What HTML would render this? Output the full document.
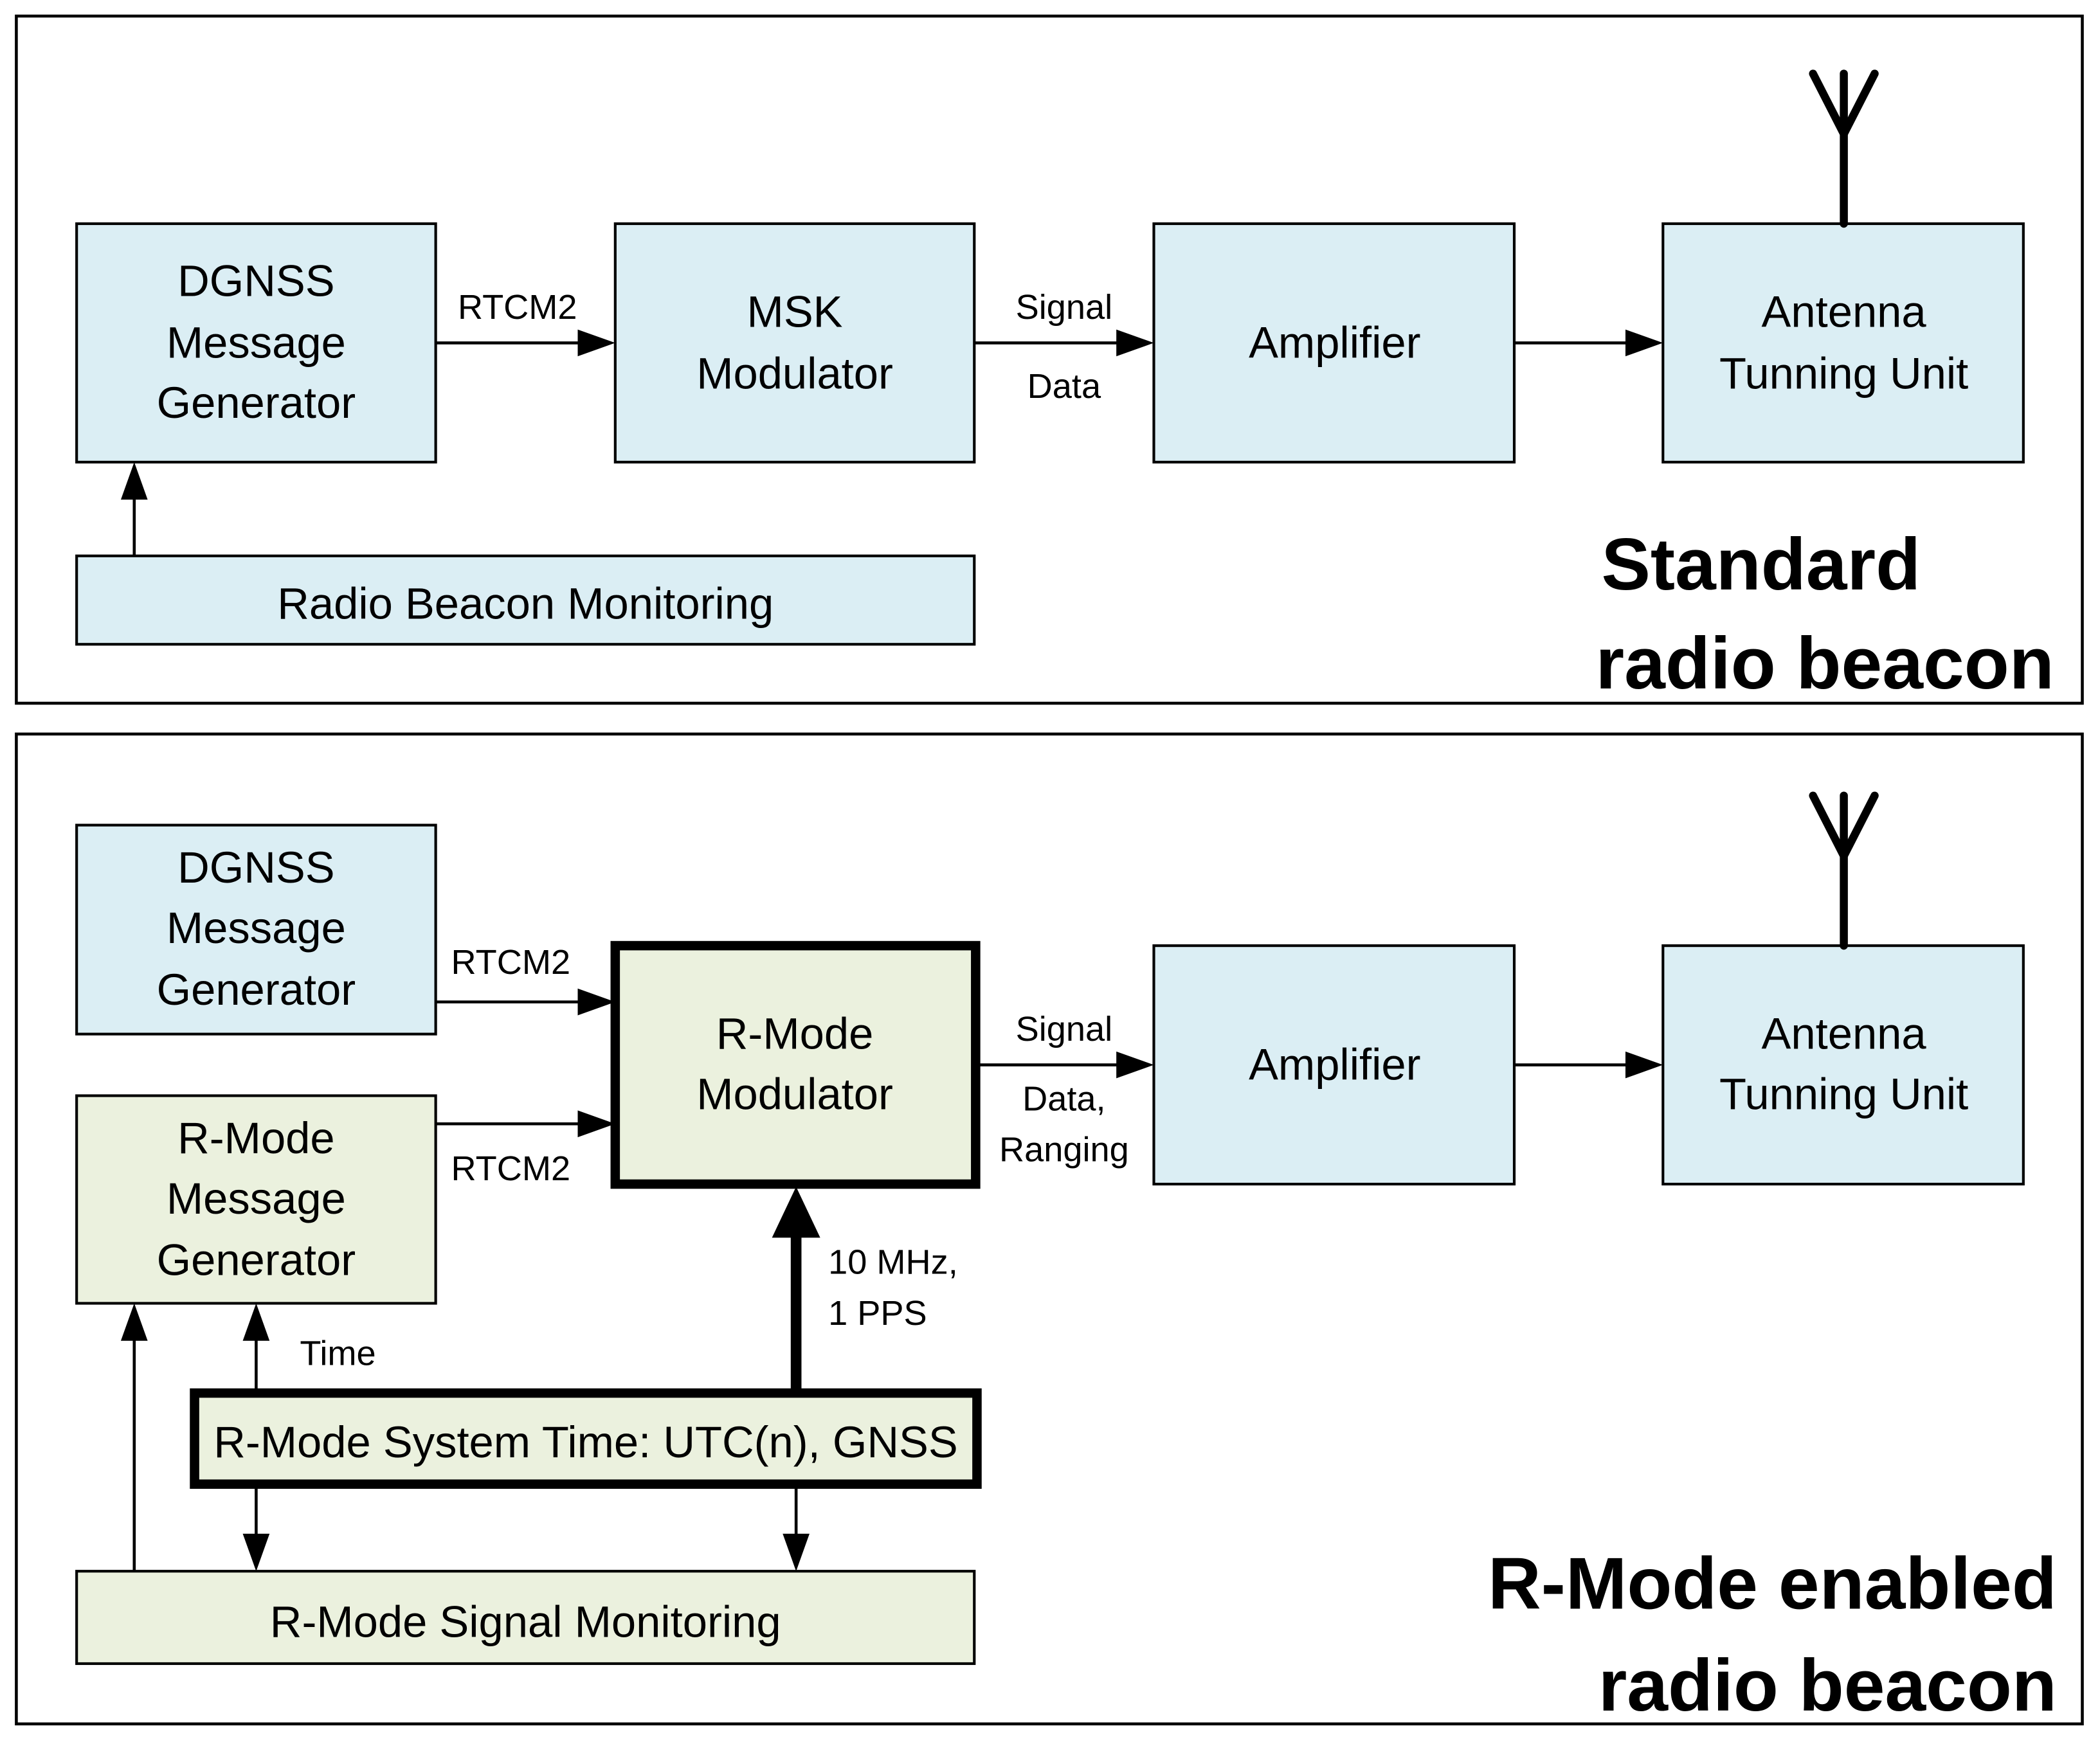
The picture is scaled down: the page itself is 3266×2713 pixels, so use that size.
<!DOCTYPE html>
<html><head><meta charset="utf-8"><style>html,body{margin:0;padding:0;background:#fff}svg{display:block}</style></head>
<body>
<svg width="3266" height="2713" viewBox="0 0 1567 1302" xmlns="http://www.w3.org/2000/svg" font-family="'Liberation Sans', sans-serif">
<rect width="1567" height="1302" fill="#fff"/>
<g fill="none" stroke="#000" stroke-width="2.2">
<rect x="12" y="12" width="1542" height="513"/>
<rect x="12" y="548" width="1542" height="739"/>
</g>
<g stroke="#000" stroke-width="2">
<rect x="57" y="167" width="268" height="178" fill="#dbeef4"/>
<rect x="459" y="167" width="268" height="178" fill="#dbeef4"/>
<rect x="861" y="167" width="269" height="178" fill="#dbeef4"/>
<rect x="1241" y="167" width="269" height="178" fill="#dbeef4"/>
<rect x="57" y="415" width="670" height="66" fill="#dbeef4"/>
<rect x="57" y="616" width="268" height="156" fill="#dbeef4"/>
<rect x="57" y="818" width="268" height="155" fill="#ebf1de"/>
<rect x="861" y="706" width="269" height="178" fill="#dbeef4"/>
<rect x="1241" y="706" width="269" height="178" fill="#dbeef4"/>
<rect x="57" y="1173" width="670" height="69" fill="#ebf1de"/>
</g>
<g stroke="#000" stroke-width="7">
<rect x="459" y="706" width="269" height="178" fill="#ebf1de"/>
<rect x="145" y="1040" width="584" height="68" fill="#ebf1de"/>
</g>
<g stroke="#000" stroke-width="2.2">
<line x1="325" y1="256" x2="432" y2="256"/>
<line x1="727" y1="256" x2="834" y2="256"/>
<line x1="1130" y1="256" x2="1214" y2="256"/>
<line x1="100" y1="415" x2="100" y2="372"/>
<line x1="325" y1="748" x2="432" y2="748"/>
<line x1="325" y1="839" x2="432" y2="839"/>
<line x1="728" y1="795" x2="834" y2="795"/>
<line x1="1130" y1="795" x2="1214" y2="795"/>
<line x1="100" y1="1173" x2="100" y2="1000"/>
<line x1="191" y1="1040" x2="191" y2="1000"/>
<line x1="191" y1="1108" x2="191" y2="1146"/>
<line x1="594" y1="1108" x2="594" y2="1146"/>
</g>
<line x1="594" y1="1040" x2="594" y2="920" stroke="#000" stroke-width="8"/>
<g fill="#000">
<polygon points="459,256 431,246 431,266"/>
<polygon points="861,256 833,246 833,266"/>
<polygon points="1241,256 1213,246 1213,266"/>
<polygon points="100,345 90,373 110,373"/>
<polygon points="459,748 431,738 431,758"/>
<polygon points="459,839 431,829 431,849"/>
<polygon points="861,795 833,785 833,805"/>
<polygon points="1241,795 1213,785 1213,805"/>
<polygon points="100,973 90,1001 110,1001"/>
<polygon points="191,973 181,1001 201,1001"/>
<polygon points="191,1173 181,1145 201,1145"/>
<polygon points="594,1173 584,1145 604,1145"/>
<polygon points="594,886 576,924 612,924"/>
</g>
<g stroke="#000" stroke-width="6" fill="none" stroke-linecap="round">
<line x1="1376" y1="167" x2="1376" y2="55"/>
<polyline points="1353,55 1376,100 1399,55"/>
<line x1="1376" y1="706" x2="1376" y2="594"/>
<polyline points="1353,594 1376,639 1399,594"/>
</g>
<g font-size="33" text-anchor="middle" fill="#000">
<text x="191" y="221">DGNSS</text><text x="191" y="267">Message</text><text x="191" y="312">Generator</text>
<text x="593" y="244">MSK</text><text x="593" y="290">Modulator</text>
<text x="996" y="267">Amplifier</text>
<text x="1376" y="244">Antenna</text><text x="1376" y="290">Tunning Unit</text>
<text x="392" y="462">Radio Beacon Monitoring</text>
<text x="191" y="659">DGNSS</text><text x="191" y="704">Message</text><text x="191" y="750">Generator</text>
<text x="191" y="861">R-Mode</text><text x="191" y="906">Message</text><text x="191" y="952">Generator</text>
<text x="593" y="783">R-Mode</text><text x="593" y="828">Modulator</text>
<text x="996" y="806">Amplifier</text>
<text x="1376" y="783">Antenna</text><text x="1376" y="828">Tunning Unit</text>
<text x="437" y="1088">R-Mode System Time: UTC(n), GNSS</text>
<text x="392" y="1222">R-Mode Signal Monitoring</text>
</g>
<g font-size="26" text-anchor="middle" fill="#000">
<text x="386" y="238">RTCM2</text>
<text x="794" y="238">Signal</text><text x="794" y="297">Data</text>
<text x="381" y="727">RTCM2</text>
<text x="381" y="881">RTCM2</text>
<text x="794" y="777">Signal</text><text x="794" y="829">Data,</text><text x="794" y="867">Ranging</text>
<text x="252" y="1019">Time</text>
</g>
<g font-size="26" fill="#000">
<text x="618" y="951">10 MHz,</text><text x="618" y="989">1 PPS</text>
</g>
<g font-size="55" font-weight="bold" fill="#000">
<text x="1195" y="440">Standard</text>
<text x="1533" y="514" text-anchor="end">radio beacon</text>
<text x="1535" y="1201" text-anchor="end">R-Mode enabled</text>
<text x="1535" y="1277" text-anchor="end">radio beacon</text>
</g>
</svg>
</body></html>
